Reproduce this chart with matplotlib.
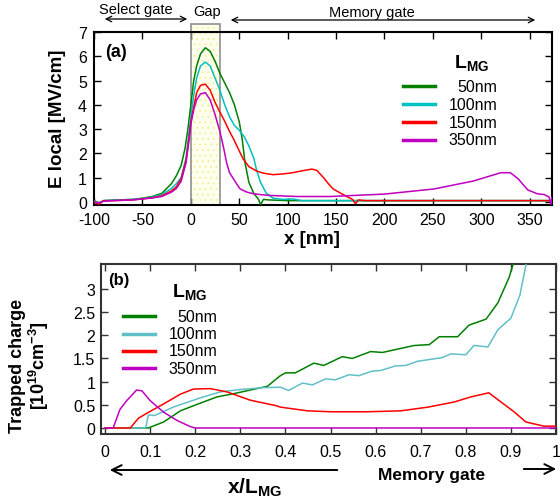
import numpy as np
import matplotlib
matplotlib.use("Agg")
import matplotlib.pyplot as plt
from matplotlib.patches import Rectangle
from matplotlib.ticker import FuncFormatter
import matplotlib.transforms as mtransforms

plt.rcParams['font.family'] = ['Liberation Sans', 'DejaVu Sans']
plt.rcParams['axes.unicode_minus'] = False
plt.rcParams['mathtext.fontset'] = 'custom'
plt.rcParams['mathtext.rm'] = 'Liberation Sans'
plt.rcParams['mathtext.bf'] = 'Liberation Sans:bold'
plt.rcParams['hatch.linewidth'] = 0.6

# ── (a) local field vs position ─────────────────────────────────────────────
LABELS = ["50nm", "100nm", "150nm", "350nm"]
COL_A = ["#008000", "#00C0C0", "#FF0000", "#C000C0"]
COL_B = ["#008000", "#60C0C8", "#FF0000", "#C000C0"]

xa_50 = [-100, -95, -90, -80, -60, -50, -40, -30, -20, -15, -10, -6, -3, 0, 3, 6, 10, 15, 20, 25,
         30, 35, 40, 45, 50, 53, 56, 60, 65, 70, 72, 75, 80, 100, 150, 200, 300, 373]
ea_50 = [0.05, -0.05, 0.05, 0.07, 0.1, 0.15, 0.22, 0.35, 0.75, 1.07, 1.5, 2.2, 3.0, 4.0, 5.0, 5.6, 6.1, 6.35, 6.2, 5.8,
         5.3, 4.9, 4.5, 4.0, 3.3, 2.6, 1.6, 0.8, 0.35, 0.1, -0.12, 0.1, 0.08, 0.05, 0.05, 0.05, 0.05, 0.05]

xa_100 = [-100, -95, -90, -80, -60, -50, -40, -30, -20, -15, -10, -5, -2, 0, 3, 6, 10, 15, 20, 25,
          30, 35, 40, 45, 50, 55, 60, 65, 68, 72, 78, 85, 95, 105, 115, 125, 150, 373]
ea_100 = [0.0, -0.05, 0.05, 0.07, 0.1, 0.14, 0.2, 0.3, 0.55, 0.75, 1.0, 1.8, 2.8, 3.5, 4.4, 5.1, 5.6, 5.76, 5.6, 5.1,
          4.6, 4.0, 3.5, 3.15, 2.95, 2.7, 2.3, 1.8, 1.3, 0.8, 0.35, 0.15, 0.1, 0.12, 0.05, 0.05, 0.05, 0.05]

xa_150 = [-100, -95, -90, -80, -60, -50, -40, -30, -20, -15, -10, -5, -2, 0, 3, 6, 10, 15, 20, 25,
          30, 34, 40, 44, 50, 54, 60, 68, 75, 85, 95, 105, 115, 125, 130, 137, 142, 147, 155, 162,
          167, 170, 173, 180, 200, 373]
ea_150 = [0.0, -0.1, 0.05, 0.05, 0.08, 0.12, 0.17, 0.25, 0.45, 0.62, 0.95, 1.7, 2.6, 3.3, 3.9, 4.5, 4.8, 4.85, 4.6, 4.1,
          3.7, 3.4, 2.9, 2.6, 2.1, 1.77, 1.45, 1.27, 1.18, 1.12, 1.15, 1.2, 1.28, 1.35, 1.3, 1.0, 0.75, 0.53, 0.35, 0.2,
          0.1, -0.08, 0.08, 0.05, 0.05, 0.05]

xa_350 = [-100, -95, -90, -80, -60, -50, -40, -30, -20, -15, -10, -5, -2, 0, 3, 6, 10, 15, 20, 25,
          30, 34, 37, 40, 44, 48, 51, 58, 65, 72, 79, 90, 110, 144, 200, 251, 292, 320, 330, 338,
          348, 358, 365, 370, 372, 373]
ea_350 = [0.0, -0.05, 0.03, 0.05, 0.08, 0.12, 0.16, 0.22, 0.4, 0.55, 0.85, 1.6, 2.5, 3.2, 3.8, 4.2, 4.45, 4.5, 4.2, 3.6,
          2.9, 2.2, 1.6, 1.2, 0.95, 0.7, 0.53, 0.4, 0.33, 0.3, 0.27, 0.25, 0.22, 0.22, 0.32, 0.53, 0.86, 1.2, 1.2, 0.95,
          0.49, 0.33, 0.3, 0.2, -0.1, 0.2]

XA = [xa_50, xa_100, xa_150, xa_350]
EA = [ea_50, ea_100, ea_150, ea_350]
GAP = (0, 30)

# ── (b) trapped charge vs normalised position ───────────────────────────────
xb_50 = [0, 0.096, 0.13, 0.167, 0.196, 0.248, 0.285, 0.36, 0.38, 0.389, 0.4, 0.422, 0.463, 0.485, 0.526,
         0.548, 0.589, 0.615, 0.685, 0.719, 0.741, 0.782, 0.807, 0.845, 0.871, 0.896, 0.91, 0.95]
qb_50 = [0, 0, 0.13, 0.37, 0.48, 0.67, 0.74, 0.9, 1.06, 1.13, 1.19, 1.19, 1.4, 1.35, 1.54,
         1.5, 1.65, 1.63, 1.78, 1.8, 1.97, 1.97, 2.22, 2.35, 2.7, 3.25, 3.7, 4.5]

xb_100 = [0, 0.09, 0.096, 0.11, 0.151, 0.211, 0.256, 0.3, 0.35, 0.389, 0.407, 0.438, 0.46, 0.489, 0.511,
          0.541, 0.563, 0.593, 0.611, 0.644, 0.667, 0.693, 0.748, 0.767, 0.8, 0.818, 0.849, 0.871, 0.9,
          0.92, 0.935, 0.96]
qb_100 = [0, 0, 0.28, 0.27, 0.45, 0.65, 0.78, 0.83, 0.87, 0.88, 0.81, 0.97, 0.93, 1.06, 1.04,
          1.15, 1.13, 1.23, 1.24, 1.34, 1.35, 1.44, 1.52, 1.6, 1.58, 1.78, 1.75, 2.12, 2.37,
          2.87, 3.6, 4.5]

xb_150 = [0, 0.056, 0.074, 0.093, 0.13, 0.167, 0.196, 0.233, 0.27, 0.322, 0.38, 0.389, 0.449, 0.5, 0.582,
          0.656, 0.716, 0.774, 0.811, 0.851, 0.878, 0.907, 0.933, 0.973, 1.0]
qb_150 = [0, 0, 0.21, 0.32, 0.52, 0.73, 0.84, 0.85, 0.78, 0.6, 0.48, 0.45, 0.37, 0.35, 0.35,
          0.37, 0.45, 0.56, 0.67, 0.76, 0.56, 0.35, 0.13, 0.04, 0.04]

xb_350 = [0, 0.018, 0.033, 0.048, 0.07, 0.082, 0.1, 0.13, 0.16, 0.189, 0.2, 1.0]
qb_350 = [0, 0, 0.4, 0.59, 0.82, 0.8, 0.59, 0.34, 0.16, 0.03, 0, 0]

XB = [xb_50, xb_100, xb_150, xb_350]
QB = [qb_50, qb_100, qb_150, qb_350]

W, H = 560, 502
fig = plt.figure(figsize=(W / 100, H / 100), dpi=100)


def fx(px):
    return px / W


def fy(py):
    return 1 - py / H


# ── (a) ─────────────────────────────────────────────────────────────────────
ax1 = fig.add_axes([fx(94), fy(206), fx(552) - fx(94), fy(33) - fy(206)])
for x, e, c in zip(XA, EA, COL_A):
    ax1.plot(x, e, color=c, lw=1.1, zorder=3)
ax1.set_xlim(-100, 373)
ax1.set_ylim(-0.13, 7)
ax1.set_xticks(np.arange(-100, 351, 50))
ax1.set_yticks(np.arange(0, 8, 1))
ax1.tick_params(direction="in", top=True, right=True, length=5, width=1,
                labelsize=11.5, pad=5)
for s in ax1.spines.values():
    s.set_linewidth(1.5)

trans = mtransforms.blended_transform_factory(ax1.transData, ax1.transAxes)
ax1.add_patch(Rectangle((GAP[0], 0), GAP[1] - GAP[0], 1.046, transform=trans,
                        facecolor="#FFFFEE", edgecolor="#F2EC9A", hatch="...",
                        lw=0, clip_on=False, zorder=1))
ax1.add_patch(Rectangle((GAP[0], 0), GAP[1] - GAP[0], 1.046, transform=trans,
                        facecolor="none", edgecolor="#909090", lw=1.2,
                        clip_on=False, zorder=2))

ax1.text(0.025, 0.89, "(a)", transform=ax1.transAxes, fontsize=13,
         fontweight="bold", va="center")

# legend (a)
leg_y = [87, 105, 123, 141]
for py, c, lab in zip(leg_y, COL_A, LABELS):
    fig.add_artist(plt.Line2D([fx(403), fx(435)], [fy(py), fy(py)], color=c, lw=2.5))
    fig.text(fx(497), fy(py), lab, ha="right", va="center", fontsize=11.5)
fig.text(fx(472), fy(64), r"$\mathbf{L}_{\mathbf{MG}}$", ha="center", va="center",
         fontsize=14)

fig.text(fx(57), fy(119), "E local [MV/cm]", rotation=90, ha="center", va="center",
         fontsize=13.5, fontweight="bold")
fig.text(fx(312), fy(240), "x [nm]", ha="center", va="center",
         fontsize=13.5, fontweight="bold")

# region labels above (a)
fig.text(fx(136), fy(10), "Select gate", ha="center", va="center", fontsize=10.5)
fig.text(fx(207), fy(12), "Gap", ha="center", va="center", fontsize=10.5)
fig.text(fx(372), fy(13), "Memory gate", ha="center", va="center", fontsize=10.5)
fig.add_artist(matplotlib.patches.FancyArrowPatch(
    (fx(102), fy(20)), (fx(190), fy(20)), transform=fig.transFigure,
    arrowstyle="<->,head_length=4,head_width=2", lw=0.9, color="black"))
fig.add_artist(matplotlib.patches.FancyArrowPatch(
    (fx(228), fy(21)), (fx(538), fy(21)), transform=fig.transFigure,
    arrowstyle="<->,head_length=4,head_width=2", lw=0.9, color="black"))

# ── (b) ─────────────────────────────────────────────────────────────────────
ax2 = fig.add_axes([fx(101), fy(435), fx(556) - fx(101), fy(265) - fy(435)])
for x, q, c in zip(XB, QB, COL_B):
    ax2.plot(x, q, color=c, lw=1.1, zorder=3)
ax2.set_xlim(-0.009, 1.0)
ax2.set_ylim(-0.13, 3.54)
ax2.set_xticks(np.arange(0, 1.01, 0.1))
ax2.set_yticks(np.arange(0, 3.01, 0.5))
fmt = FuncFormatter(lambda v, p: "%g" % round(v, 2))
ax2.xaxis.set_major_formatter(fmt)
ax2.yaxis.set_major_formatter(fmt)
ax2.tick_params(direction="in", top=True, right=True, length=5, width=1,
                labelsize=11.5, colors="#333333")
ax2.tick_params(axis="x", pad=7, labelcolor="black")
ax2.tick_params(axis="y", pad=4, labelcolor="black")
for s in ax2.spines.values():
    s.set_linewidth(1.5)
    s.set_color("#333333")

ax2.text(0.015, 0.91, "(b)", transform=ax2.transAxes, fontsize=12,
         fontweight="bold", va="center")

leg_y = [317, 335, 352, 369]
for py, c, lab in zip(leg_y, COL_B, LABELS):
    fig.add_artist(plt.Line2D([fx(123), fx(155)], [fy(py), fy(py)], color=c, lw=2.5))
    fig.text(fx(217), fy(py), lab, ha="right", va="center", fontsize=11.5)
fig.text(fx(190), fy(293), r"$\mathbf{L}_{\mathbf{MG}}$", ha="center", va="center",
         fontsize=14)

fig.text(fx(30), fy(366), "Trapped charge\n[10$^{\\mathbf{19}}$cm$^{\\mathbf{-3}}$]",
         rotation=90, ha="center", va="center", multialignment="center",
         fontsize=13, fontweight="bold", linespacing=1.0)

fig.text(fx(255), fy(488), r"$\mathbf{x/L}_{\mathbf{MG}}$", ha="center", va="center",
         fontsize=15)
fig.text(fx(432), fy(476), "Memory gate", ha="center", va="center",
         fontsize=12.5, fontweight="bold")
fig.add_artist(matplotlib.patches.FancyArrowPatch(
    (fx(340), fy(471)), (fx(107), fy(471)), transform=fig.transFigure,
    arrowstyle="->,head_length=7,head_width=3.5", lw=1.4, color="black"))
fig.add_artist(matplotlib.patches.FancyArrowPatch(
    (fx(521), fy(470)), (fx(559), fy(470)), transform=fig.transFigure,
    arrowstyle="->,head_length=7,head_width=3.5", lw=1.4, color="black"))

fig.savefig("out.png", dpi=100)
